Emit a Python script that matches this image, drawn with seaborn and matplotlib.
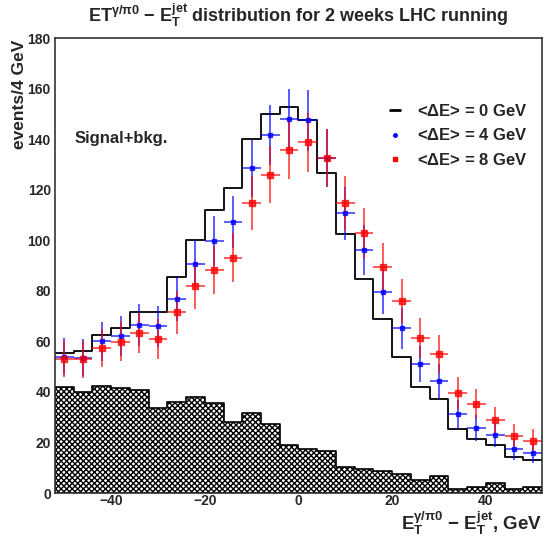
import numpy as np
import pandas as pd
import matplotlib
matplotlib.use('Agg')
import matplotlib.pyplot as plt
import seaborn as sns
from matplotlib.lines import Line2D
from matplotlib.ticker import MultipleLocator

# bin edges, 4 GeV wide
edges = list(range(-52, 53, 4))
centers = [e + 2 for e in edges[:-1]]

# signal+bkg, <dE> = 0 GeV (black histogram)
sig0 = [55.5, 56.2, 62.5, 65.4, 71.5, 71.7, 85.6, 100.1, 111.8, 120.6, 140.2, 150.0, 152.6,
        147.5, 126.7, 102.5, 84.8, 68.8, 53.9, 42.0, 37.0, 25.3, 21.4, 18.9, 14.4, 13.0]
# <dE> = 4 GeV (blue points)
sig4 = [53.9, 53.5, 60.0, 62.0, 66.5, 66.0, 76.7, 90.7, 99.8, 107.3, 128.4, 141.5, 147.8,
        147.5, 132.6, 110.6, 96.1, 79.6, 65.1, 50.9, 44.3, 31.1, 25.8, 22.9, 17.3, 15.7]
# <dE> = 8 GeV (red points)
sig8 = [53.0, 52.9, 57.5, 59.9, 63.2, 60.9, 71.5, 81.9, 88.2, 93.1, 114.6, 126.0, 135.7,
        138.7, 132.6, 114.8, 102.7, 89.5, 76.1, 61.4, 55.0, 39.7, 35.2, 28.8, 22.7, 20.6]
# background only (hatched)
bkg = [42.0, 40.0, 42.5, 41.7, 40.7, 33.5, 36.1, 38.1, 35.5, 28.0, 31.5, 27.4, 19.0,
       17.4, 16.6, 10.4, 9.4, 8.8, 7.4, 5.0, 6.9, 1.7, 2.5, 3.8, 1.7, 2.5]

df = pd.DataFrame({'E': centers, 'sig0': sig0, 'sig4': sig4, 'sig8': sig8, 'bkg': bkg})

sns.set_theme(style='white')
plt.rcParams['font.family'] = ['Liberation Sans', 'DejaVu Sans']
plt.rcParams['font.weight'] = 'bold'
plt.rcParams['mathtext.fontset'] = 'custom'
plt.rcParams['mathtext.rm'] = 'Liberation Sans:bold'
plt.rcParams['mathtext.it'] = 'Liberation Sans:bold'
plt.rcParams['mathtext.bf'] = 'Liberation Sans:bold'
plt.rcParams['mathtext.default'] = 'rm'
plt.rcParams['hatch.linewidth'] = 1.0
plt.rcParams['hatch.color'] = 'black'

fig = plt.figure(figsize=(5.49, 5.36), dpi=100)
ax = fig.add_axes([0.1002, 0.0802, 0.887, 0.8488])

# background
sns.histplot(data=df, x='E', weights='bkg', bins=edges, element='step', fill=True,
             color='white', alpha=1, edgecolor='black', linewidth=1.2,
             hatch='xxxxxx', ax=ax)
# signal+bkg 0 GeV
sns.histplot(data=df, x='E', weights='sig0', bins=edges, element='step', fill=False,
             color='black', linewidth=1.3, ax=ax)

# points with poisson errors
ax.errorbar(df['E'], df['sig4'], xerr=2, yerr=np.sqrt(df['sig4']), fmt='s', color='#0000ff',
            ms=3, elinewidth=1.2, alpha=0.75, capsize=0)
ax.errorbar(df['E'], df['sig8'], xerr=2, yerr=np.sqrt(df['sig8']), fmt='s', color='#ff0000',
            ms=4.5, elinewidth=1.2, alpha=0.75, capsize=0)

ax.set_xlim(-52, 52)
ax.set_ylim(0, 180)
ax.xaxis.set_major_locator(MultipleLocator(20))
ax.xaxis.set_minor_locator(MultipleLocator(5))
ax.yaxis.set_major_locator(MultipleLocator(20))
ax.yaxis.set_minor_locator(MultipleLocator(5))
ax.tick_params(which='both', direction='in', top=False, right=False,
               labelsize=10, pad=3)
ax.tick_params(axis='x', pad=0.5)
ax.tick_params(which='major', length=8, width=1)
ax.tick_params(which='minor', length=4, width=1)
for sp in ax.spines.values():
    sp.set_color('#333333')
    sp.set_linewidth(1.2)
ax.set_xlabel('')
ax.set_ylabel('')

fig.text(0.036, 0.927, 'events/4 GeV', rotation=90, ha='center', va='top',
         fontsize=12.5, fontweight='bold')
fig.text(0.988, 0.012, r'E$_T^{\gamma/\pi0}$ $-$ E$_T^{jet}$, GeV', ha='right',
         va='baseline', fontsize=13.5, fontweight='bold')

fig.text(0.543, 0.972, r'ET$^{\gamma/\pi0}$ $-$ E$_T^{jet}$ distribution for 2 weeks LHC running',
         ha='center', va='center', fontsize=13, fontweight='bold')

ax.text(0.04, 0.78, 'Signal+bkg.', transform=ax.transAxes, fontsize=12,
        fontweight='bold', va='center')

handles = [Line2D([], [], color='black', marker='_', ls='none', ms=8, mew=2),
           Line2D([], [], color='#0000ff', marker='o', ls='none', ms=2.5),
           Line2D([], [], color='#ff0000', marker='s', ls='none', ms=3)]
labels = [r'<$\Delta$E> = 0 GeV', r'<$\Delta$E> = 4 GeV', r'<$\Delta$E> = 8 GeV']
leg = ax.legend(handles, labels, loc='upper right', bbox_to_anchor=(1.0, 0.89),
                frameon=False, handlelength=1.0, handletextpad=0.8,
                labelspacing=0.5, prop={'size': 12, 'weight': 'bold'})

fig.savefig('out.png', dpi=100)
